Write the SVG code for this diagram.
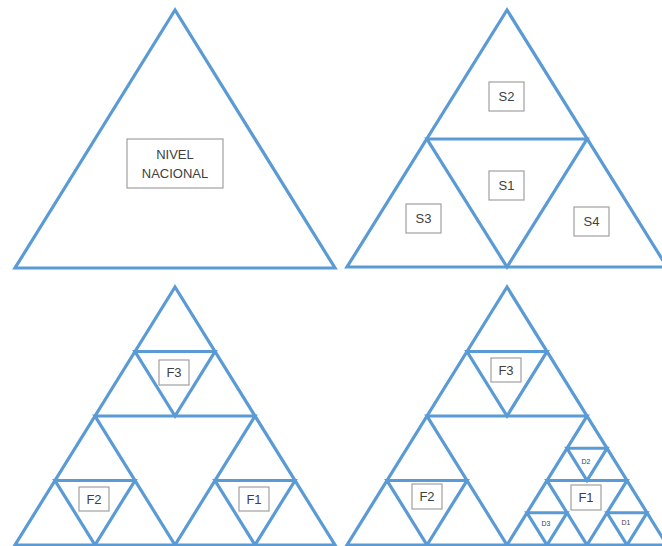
<svg xmlns="http://www.w3.org/2000/svg" width="662" height="546" viewBox="0 0 662 546">
<style>
.t{fill:none;stroke:#5B9BD5;stroke-width:3.2;stroke-linejoin:miter}
.b{fill:#fff;stroke:#a0a0a0;stroke-width:1.2}
.l{font-family:"Liberation Sans",Arial,sans-serif;font-size:13px;fill:#404040;text-anchor:middle;dominant-baseline:central}
.s{font-family:"Liberation Sans",Arial,sans-serif;font-size:7px;fill:#404040;text-anchor:middle;dominant-baseline:central}
</style>
<rect width="662" height="546" fill="#fff"/>
<g id="connectors">
<!-- Panel 1 -->
<polygon class="t" points="175,10 15,268 335,268"/>
<!-- Panel 2 -->
<polygon class="t" points="507,10 347,267 667,267"/>
<polygon class="t" points="427,139 587,139 507,267"/>
<!-- Panel 3 -->
<polygon class="t" points="175,287 15,545 335,545"/>
<polygon class="t" points="95,416 255,416 175,545"/>
<polygon class="t" points="135,351.5 215,351.5 175,416"/>
<polygon class="t" points="55,480.5 135,480.5 95,545"/>
<polygon class="t" points="215,480.5 295,480.5 255,545"/>
<!-- Panel 4 -->
<polygon class="t" points="507,287 347,545 667,545"/>
<polygon class="t" points="427,416 587,416 507,545"/>
<polygon class="t" points="467,351.5 547,351.5 507,416"/>
<polygon class="t" points="387,480.5 467,480.5 427,545"/>
<polygon class="t" points="547,480.5 627,480.5 587,545"/>
<polygon class="t" points="567,448.25 607,448.25 587,480.5"/>
<polygon class="t" points="527,512.75 567,512.75 547,545"/>
<polygon class="t" points="607,512.75 647,512.75 627,545"/>
</g>
<g id="nivel-nacional">
<rect class="b" x="127" y="139" width="96" height="49"/>
<text class="l" x="175" y="154">NIVEL</text>
<text class="l" x="175" y="173">NACIONAL</text>
</g>
<g id="s2"><rect class="b" x="489" y="82" width="35" height="29"/><text class="l" x="506.5" y="96.5">S2</text></g>
<g id="s1"><rect class="b" x="489" y="171" width="35" height="29"/><text class="l" x="506.5" y="185.5">S1</text></g>
<g id="s3"><rect class="b" x="406" y="204" width="35" height="29"/><text class="l" x="423.5" y="218.5">S3</text></g>
<g id="s4"><rect class="b" x="574" y="207" width="35" height="29"/><text class="l" x="591.5" y="221.5">S4</text></g>
<g id="f3-a"><rect class="b" x="159" y="360" width="30" height="25"/><text class="l" x="174" y="372.5">F3</text></g>
<g id="f2-a"><rect class="b" x="79" y="487" width="30" height="24"/><text class="l" x="94" y="499">F2</text></g>
<g id="f1-a"><rect class="b" x="239" y="487" width="30" height="24"/><text class="l" x="254" y="499">F1</text></g>
<g id="f3-b"><rect class="b" x="491" y="358" width="30" height="24"/><text class="l" x="506" y="370">F3</text></g>
<g id="f2-b"><rect class="b" x="412" y="484" width="30" height="25"/><text class="l" x="427" y="496.5">F2</text></g>
<g id="f1-b"><rect class="b" x="571" y="485" width="30" height="25"/><text class="l" x="586" y="497.5">F1</text></g>
<g id="d2"><text class="s" x="586" y="461">D2</text></g>
<g id="d3"><text class="s" x="546" y="523">D3</text></g>
<g id="d1"><text class="s" x="626" y="522">D1</text></g>
</svg>
